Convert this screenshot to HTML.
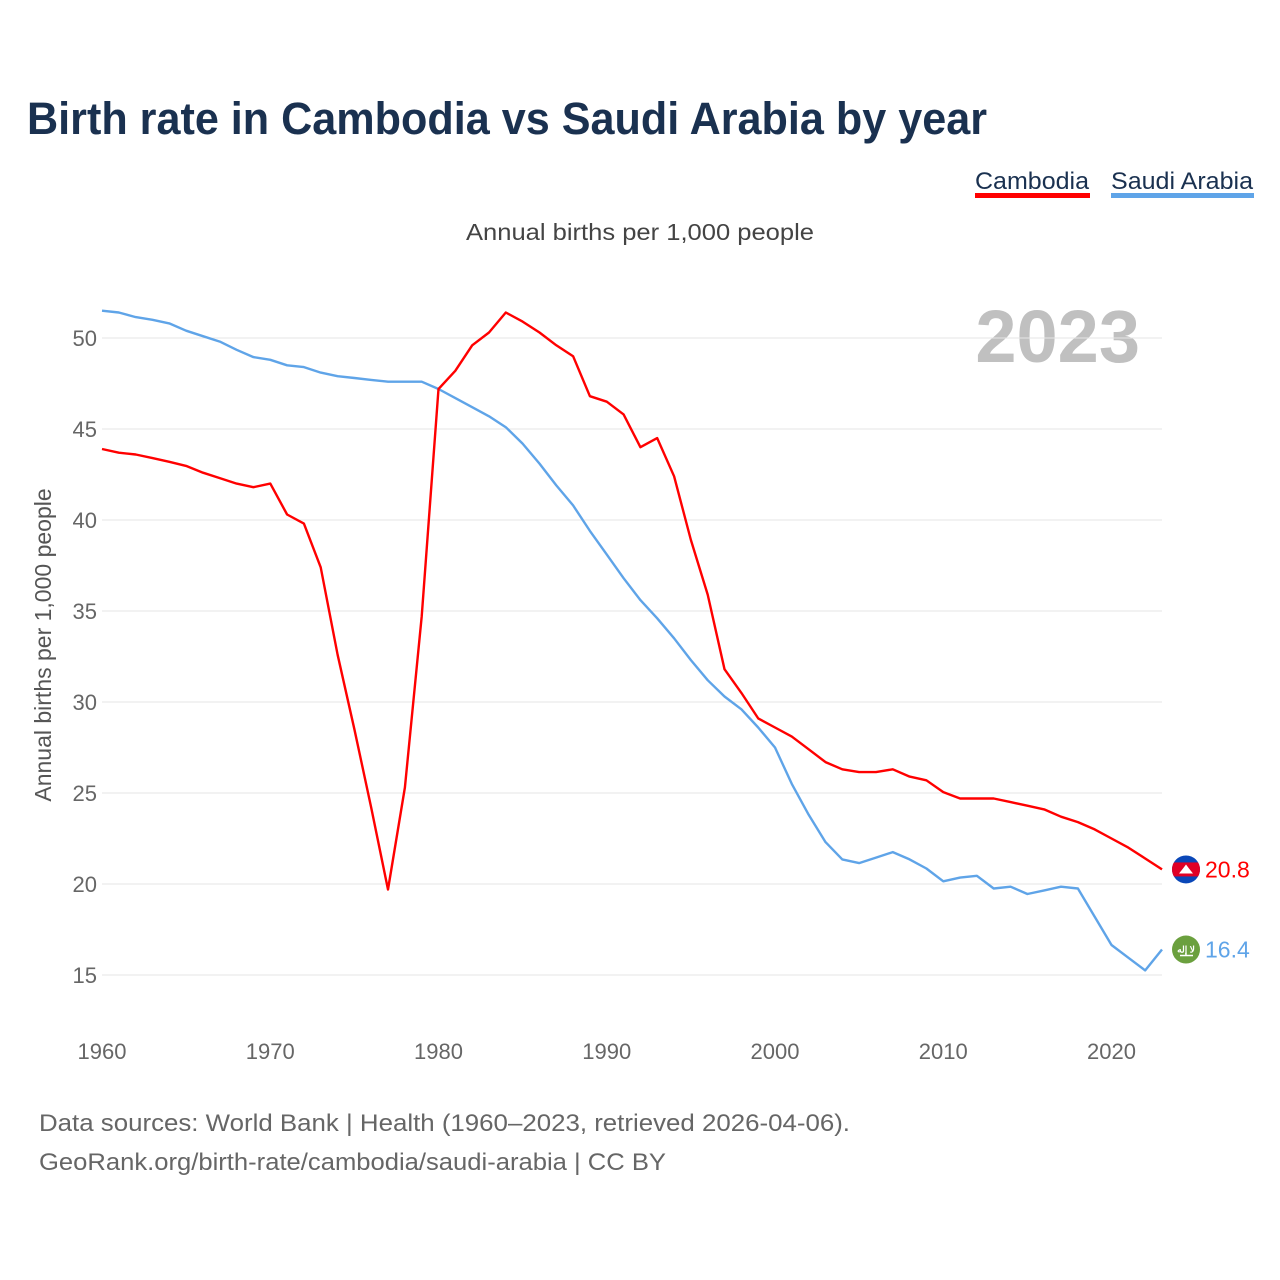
<!DOCTYPE html>
<html><head><meta charset="utf-8">
<style>
html,body{margin:0;padding:0;background:#fff;}
body{width:1280px;height:1280px;position:relative;overflow:hidden;font-family:"Liberation Sans",sans-serif;}
svg{position:absolute;left:0;top:0;}
</style></head>
<body>
<svg id="chart" width="1280" height="1280" viewBox="0 0 1280 1280">
  <text x="27" y="134" font-size="45" font-weight="bold" fill="#1a3150" textLength="960" lengthAdjust="spacingAndGlyphs">Birth rate in Cambodia vs Saudi Arabia by year</text>
  <g>
    <g>
      <text x="975" y="189" font-size="24" fill="#1a3150" textLength="114" lengthAdjust="spacingAndGlyphs">Cambodia</text>
      <rect x="975" y="193" width="115" height="5" fill="#ff0000"></rect>
    </g>
    <g>
      <text x="1111" y="189" font-size="24" fill="#1a3150" textLength="142" lengthAdjust="spacingAndGlyphs">Saudi Arabia</text>
      <rect x="1111" y="193" width="143" height="5" fill="#5fa4e8"></rect>
    </g>
  </g>
  <text x="466" y="240" font-size="23" fill="#444" textLength="348" lengthAdjust="spacingAndGlyphs">Annual births per 1,000 people</text>
  <text x="1140" y="362" text-anchor="end" font-size="74" font-weight="bold" fill="#c0c0c0">2023</text>
  <text transform="translate(51,645) rotate(-90)" text-anchor="middle" font-size="23" fill="#555">Annual births per 1,000 people</text>
  <g id="grid"></g>
  <g id="yticks"></g>
  <g id="xticks"></g>
  <g id="series"></g>
  <g id="endlabels"></g>
  <text x="39" y="1131" font-size="24" fill="#666" textLength="811" lengthAdjust="spacingAndGlyphs">Data sources: World Bank | Health (1960–2023, retrieved 2026-04-06).</text>
  <text x="39" y="1170" font-size="24" fill="#666" textLength="627" lengthAdjust="spacingAndGlyphs">GeoRank.org/birth-rate/cambodia/saudi-arabia | CC BY</text>
</svg>
<script>
const years = [];
for (let y = 1960; y <= 2023; y++) years.push(y);
const cambodia = [43.9,43.7,43.6,43.4,43.2,42.97,42.6,42.3,42.0,41.8,42.0,40.3,39.8,37.4,32.6,28.5,24.2,19.7,25.3,34.7,47.2,48.2,49.6,50.3,51.4,50.9,50.3,49.6,49.0,46.8,46.5,45.8,44.0,44.5,42.4,38.9,35.9,31.8,30.5,29.1,28.6,28.1,27.4,26.7,26.3,26.15,26.15,26.3,25.9,25.7,25.05,24.7,24.7,24.7,24.5,24.3,24.1,23.7,23.4,23.0,22.5,22.0,21.4,20.8];
const saudi = [51.5,51.4,51.15,51.0,50.8,50.4,50.1,49.8,49.35,48.95,48.8,48.5,48.4,48.1,47.9,47.8,47.7,47.6,47.6,47.6,47.2,46.7,46.2,45.7,45.1,44.2,43.1,41.9,40.8,39.4,38.1,36.8,35.6,34.6,33.5,32.3,31.2,30.3,29.6,28.6,27.5,25.5,23.8,22.3,21.35,21.15,21.45,21.75,21.35,20.85,20.15,20.35,20.45,19.75,19.85,19.45,19.65,19.85,19.75,18.2,16.65,15.95,15.25,16.4];
const yTicks = [15,20,25,30,35,40,45,50];
const xTicks = [1960,1970,1980,1990,2000,2010,2020];

const NS = "http://www.w3.org/2000/svg";
const X0 = 102, X1 = 1162;
function xs(y){ return X0 + (y - 1960) * (X1 - X0) / 63; }
function ys(v){ return 338 + (50 - v) * 18.2; }
function mk(tag, attrs, parent){ const e = document.createElementNS(NS, tag); for (const k in attrs) e.setAttribute(k, attrs[k]); parent.appendChild(e); return e; }

const grid = document.getElementById('grid');
const yt = document.getElementById('yticks');
yTicks.forEach(v => {
  const l = mk('line', {x1: X0, x2: X1, y1: ys(v), y2: ys(v), stroke: '#e6e6e6', 'stroke-width': 1}, grid);
  
  
  const t = mk('text', {x: 97, y: ys(v) + 8, 'text-anchor': 'end', 'font-size': 22, fill: '#666'}, yt);
  t.textContent = v;
  
  
});
const xt = document.getElementById('xticks');
xTicks.forEach(y => {
  const t = mk('text', {x: xs(y), y: 1059, 'text-anchor': 'middle', 'font-size': 22, fill: '#666'}, xt);
  t.textContent = y;
  
  
});
const sg = document.getElementById('series');
function line(data, color, name){
  const d = data.map((v, i) => (i ? 'L' : 'M') + xs(years[i]).toFixed(1) + ' ' + ys(v).toFixed(1)).join(' ');
  const p = mk('path', {d: d, fill: 'none', stroke: color, 'stroke-width': 2.4, 'stroke-linejoin': 'round'}, sg);
  
  
}
line(saudi, '#5fa4e8', 'saudi-arabia-line');
line(cambodia, '#ff0000', 'cambodia-line');

const el = document.getElementById('endlabels');
function endLabel(data, color, name, flag){
  const v = data[data.length - 1];
  const cy = ys(v);
  const g = mk('g', {}, el);
  
  
  if (flag === 'kh') {
    mk('clipPath', {id: 'khc'}, g);
    mk('circle', {cx: 1186, cy: cy, r: 14}, g.lastChild);
    const f = mk('g', {'clip-path': 'url(#khc)'}, g);
    mk('rect', {x: 1172, y: cy - 14, width: 28, height: 28, fill: '#0a47b8'}, f);
    mk('rect', {x: 1172, y: cy - 7, width: 28, height: 14, fill: '#e00025'}, f);
    mk('path', {d: `M1179 ${cy+4} L1193 ${cy+4} L1189 ${cy-1} L1186 ${cy-5} L1183 ${cy-1} Z`, fill: '#fff'}, f);
  } else {
    mk('circle', {cx: 1186, cy: cy, r: 14, fill: '#6ba03e'}, g);
    const ft = mk('text', {x: 1186, y: cy + 3, 'text-anchor': 'middle', 'font-size': 9, 'font-weight': 'bold', fill: '#fff'}, g);
    ft.textContent = 'لا إله';
    mk('line', {x1: 1180, x2: 1193, y1: cy + 6, y2: cy + 6, stroke: '#fff', 'stroke-width': 1.5}, g);
  }
  const t = mk('text', {x: 1205, y: cy + 8, 'font-size': 23, fill: color}, g);
  t.textContent = v.toFixed(1);
}
endLabel(cambodia, '#ff0000', 'cambodia-end-label', 'kh');
endLabel(saudi, '#5fa4e8', 'saudi-arabia-end-label', 'sa');
</script>
</body></html>
